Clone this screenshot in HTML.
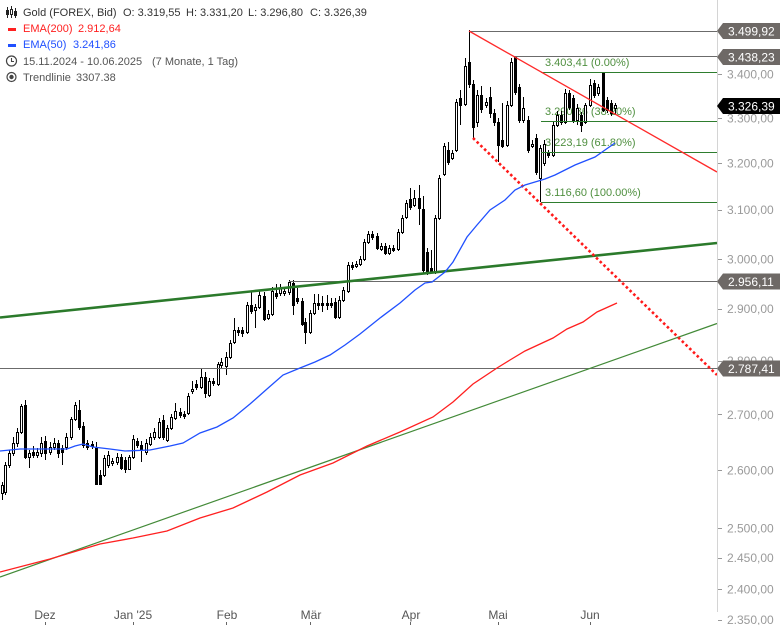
<!DOCTYPE html>
<html><head><meta charset="utf-8"><style>
html,body{margin:0;padding:0;background:#fff;}
svg{display:block;font-family:"Liberation Sans",Arial,sans-serif;}
.h{fill:#fff;stroke:#000;stroke-width:1}
.f{fill:#000;stroke:#000;stroke-width:1}
</style></head><body>
<svg width="780" height="625" viewBox="0 0 780 625" xmlns="http://www.w3.org/2000/svg">
<rect width="780" height="625" fill="#fff"/>

<!-- fib labels (under candles) -->
<g font-size="11" fill="#4f8f3f">
<text x="545" y="66">3.403,41 (0.00%)</text>
<text x="545" y="115">3.290,86 (38.20%)</text>
<text x="545" y="146">3.223,19 (61.80%)</text>
<text x="545" y="196">3.116,60 (100.00%)</text>
</g>

<!-- wicks -->
<path stroke="#000" stroke-width="1" fill="none" d="
M2.5 482V500M5.5 462V495M9.5 450V468M13.5 437V456M17.5 428V447M21.5 404V434M25.5 400V459M29.5 450V468M33.5 446V458M37.5 448V458M41.5 437V457M45.5 436V460M50.5 442V455M54.5 438V450M58.5 440V458M62.5 445V465M66.5 433V450M71.5 417V440M75.5 402V421M79.5 400V430M83.5 422V448M87.5 440V450M92.5 441V449M96.5 442V485M100.5 470V485M104.5 455V477M108.5 451V468M112.5 458V466M117.5 453V465M121.5 454V470M125.5 457V473M129.5 455V470M133.5 435V459M137.5 438V448M141.5 441V462M146.5 439V455M150.5 433V446M154.5 428V440M159.5 418V439M163.5 415V440M167.5 425V442M171.5 414V430M175.5 403V420M180.5 408V418M184.5 411V419M188.5 393V415M192.5 381V394M196.5 380V390M201.5 368V389M205.5 372V398M209.5 378V397M213.5 378V386M218.5 362V386M221.5 358V368M226.5 352V375M230.5 340V359M234.5 318V344M238.5 327V336M242.5 327V337M247.5 302V334M251.5 292V314M255.5 304V328M259.5 290V309M264.5 292V321M268.5 310V320M272.5 287V316M276.5 284V299M280.5 284V296M284.5 287V296M289.5 280V295M293.5 280V315M297.5 288V304M302.5 298V326M305.5 318V344M310.5 310V334M314.5 294V315M318.5 294V310M322.5 296V312M327.5 295V310M331.5 298V308M335.5 298V319M339.5 296V319M343.5 287V302M348.5 262V293M352.5 262V270M356.5 261V268M360.5 256V266M364.5 239V261M368.5 231V244M372.5 231V240M377.5 233V250M381.5 243V251M385.5 243V255M389.5 245V255M393.5 245V252M398.5 229V251M402.5 215V234M406.5 200V219M410.5 188V210M414.5 190V207M419.5 185V225M423.5 196V273M427.5 248V275M431.5 250V273M435.5 215V274M439.5 175V220M444.5 143V176M448.5 142V165M452.5 150V160M456.5 99V152M460.5 90V125M465.5 58V106M469.5 30V88M473.5 80V138M477.5 90V127M481.5 86V113M486.5 98V108M490.5 87V118M494.5 109V126M498.5 118V162M502.5 103V148M507.5 101V147M511.5 58V107M515.5 56V95M519.5 84V123M523.5 97V123M528.5 116V153M532.5 140V148M536.5 134V175M540.5 145V202M544.5 140V166M548.5 150V158M553.5 122V157M557.5 111V127M561.5 111V125M565.5 89V124M569.5 90V110M573.5 95V123M577.5 104V125M581.5 112V132M585.5 103V124M590.5 79V107M594.5 80V98M598.5 84V96M603.5 72V112M607.5 97V113M611.5 100V116M615.5 103V115"/>

<!-- bodies -->
<g>
<rect class="h" x="1.5" y="485.5" width="2" height="8"/>
<rect class="h" x="4.5" y="465.5" width="2" height="27"/>
<rect class="h" x="8.5" y="453.5" width="2" height="12"/>
<rect class="h" x="12.5" y="443.5" width="2" height="10"/>
<rect class="h" x="16.5" y="432.5" width="2" height="11"/>
<rect class="h" x="20.5" y="406.5" width="2" height="26"/>
<rect class="f" x="24.5" y="405.5" width="2" height="52"/>
<rect class="h" x="28.5" y="453.5" width="2" height="4"/>
<rect class="f" x="32.5" y="452.5" width="2" height="3"/>
<rect class="h" x="36.5" y="452.5" width="2" height="3"/>
<rect class="h" x="40.5" y="443.5" width="2" height="10"/>
<rect class="f" x="44.5" y="441.5" width="2" height="12"/>
<rect class="h" x="49.5" y="447.5" width="2" height="5"/>
<rect class="h" x="53.5" y="443.5" width="2" height="4"/>
<rect class="f" x="57.5" y="443.5" width="2" height="10"/>
<rect class="f" x="61.5" y="448.5" width="2" height="4"/>
<rect class="h" x="65.5" y="437.5" width="2" height="10"/>
<rect class="h" x="70.5" y="419.5" width="2" height="18"/>
<rect class="h" x="74.5" y="405.5" width="2" height="14"/>
<rect class="f" x="78.5" y="410.5" width="2" height="17"/>
<rect class="f" x="82.5" y="426.5" width="2" height="19"/>
<rect class="f" x="86.5" y="443.5" width="2" height="4"/>
<rect class="f" x="91.5" y="444.5" width="2" height="2"/>
<rect class="f" x="95.5" y="448.5" width="2" height="36"/>
<rect class="f" x="99.5" y="475.5" width="2" height="9"/>
<rect class="h" x="103.5" y="458.5" width="2" height="17"/>
<rect class="h" x="107.5" y="455.5" width="2" height="10"/>
<rect class="h" x="111.5" y="461.5" width="2" height="2"/>
<rect class="h" x="116.5" y="457.5" width="2" height="5"/>
<rect class="f" x="120.5" y="457.5" width="2" height="11"/>
<rect class="f" x="124.5" y="460.5" width="2" height="9"/>
<rect class="h" x="128.5" y="457.5" width="2" height="12"/>
<rect class="h" x="132.5" y="439.5" width="2" height="18"/>
<rect class="f" x="136.5" y="441.5" width="2" height="4"/>
<rect class="f" x="140.5" y="445.5" width="2" height="4"/>
<rect class="h" x="145.5" y="443.5" width="2" height="9"/>
<rect class="h" x="149.5" y="437.5" width="2" height="7"/>
<rect class="h" x="153.5" y="432.5" width="2" height="5"/>
<rect class="h" x="158.5" y="422.5" width="2" height="15"/>
<rect class="f" x="162.5" y="420.5" width="2" height="17"/>
<rect class="h" x="166.5" y="428.5" width="2" height="12"/>
<rect class="h" x="170.5" y="417.5" width="2" height="11"/>
<rect class="h" x="174.5" y="411.5" width="2" height="7"/>
<rect class="f" x="179.5" y="412.5" width="2" height="3"/>
<rect class="f" x="183.5" y="414.5" width="2" height="2"/>
<rect class="h" x="187.5" y="396.5" width="2" height="17"/>
<rect class="h" x="191.5" y="389.5" width="2" height="2"/>
<rect class="f" x="195.5" y="384.5" width="2" height="3"/>
<rect class="h" x="200.5" y="377.5" width="2" height="10"/>
<rect class="f" x="204.5" y="377.5" width="2" height="16"/>
<rect class="h" x="208.5" y="381.5" width="2" height="14"/>
<rect class="f" x="212.5" y="381.5" width="2" height="2"/>
<rect class="h" x="217.5" y="364.5" width="2" height="20"/>
<rect class="h" x="220.5" y="362.5" width="2" height="3"/>
<rect class="h" x="225.5" y="357.5" width="2" height="9"/>
<rect class="h" x="229.5" y="343.5" width="2" height="14"/>
<rect class="h" x="233.5" y="330.5" width="2" height="12"/>
<rect class="f" x="237.5" y="330.5" width="2" height="2"/>
<rect class="f" x="241.5" y="330.5" width="2" height="3"/>
<rect class="h" x="246.5" y="305.5" width="2" height="27"/>
<rect class="f" x="250.5" y="305.5" width="2" height="6"/>
<rect class="h" x="254.5" y="307.5" width="2" height="3"/>
<rect class="h" x="258.5" y="295.5" width="2" height="12"/>
<rect class="f" x="263.5" y="296.5" width="2" height="23"/>
<rect class="h" x="267.5" y="314.5" width="2" height="4"/>
<rect class="h" x="271.5" y="291.5" width="2" height="23"/>
<rect class="f" x="275.5" y="293.5" width="2" height="3"/>
<rect class="h" x="279.5" y="288.5" width="2" height="5"/>
<rect class="h" x="283.5" y="291.5" width="2" height="2"/>
<rect class="h" x="288.5" y="282.5" width="2" height="10"/>
<rect class="f" x="292.5" y="283.5" width="2" height="22"/>
<rect class="f" x="296.5" y="298.5" width="2" height="3"/>
<rect class="f" x="301.5" y="301.5" width="2" height="23"/>
<rect class="f" x="304.5" y="322.5" width="2" height="10"/>
<rect class="h" x="309.5" y="313.5" width="2" height="19"/>
<rect class="h" x="313.5" y="303.5" width="2" height="10"/>
<rect class="f" x="317.5" y="303.5" width="2" height="2"/>
<rect class="f" x="321.5" y="303.5" width="2" height="2"/>
<rect class="f" x="326.5" y="303.5" width="2" height="2"/>
<rect class="f" x="330.5" y="303.5" width="2" height="2"/>
<rect class="f" x="334.5" y="302.5" width="2" height="15"/>
<rect class="h" x="338.5" y="300.5" width="2" height="17"/>
<rect class="h" x="342.5" y="290.5" width="2" height="10"/>
<rect class="h" x="347.5" y="265.5" width="2" height="26"/>
<rect class="f" x="351.5" y="265.5" width="2" height="2"/>
<rect class="h" x="355.5" y="264.5" width="2" height="2"/>
<rect class="h" x="359.5" y="259.5" width="2" height="5"/>
<rect class="h" x="363.5" y="242.5" width="2" height="17"/>
<rect class="h" x="367.5" y="234.5" width="2" height="8"/>
<rect class="f" x="371.5" y="234.5" width="2" height="3"/>
<rect class="f" x="376.5" y="236.5" width="2" height="12"/>
<rect class="h" x="380.5" y="246.5" width="2" height="3"/>
<rect class="f" x="384.5" y="246.5" width="2" height="7"/>
<rect class="h" x="388.5" y="248.5" width="2" height="5"/>
<rect class="f" x="392.5" y="248.5" width="2" height="2"/>
<rect class="h" x="397.5" y="232.5" width="2" height="17"/>
<rect class="h" x="401.5" y="218.5" width="2" height="14"/>
<rect class="h" x="405.5" y="203.5" width="2" height="14"/>
<rect class="f" x="409.5" y="199.5" width="2" height="8"/>
<rect class="h" x="413.5" y="198.5" width="2" height="7"/>
<rect class="f" x="418.5" y="198.5" width="2" height="10"/>
<rect class="f" x="422.5" y="209.5" width="2" height="61"/>
<rect class="f" x="426.5" y="252.5" width="2" height="20"/>
<rect class="f" x="430.5" y="268.5" width="2" height="3"/>
<rect class="h" x="434.5" y="218.5" width="2" height="54"/>
<rect class="h" x="438.5" y="178.5" width="2" height="40"/>
<rect class="h" x="443.5" y="146.5" width="2" height="28"/>
<rect class="f" x="447.5" y="150.5" width="2" height="12"/>
<rect class="h" x="451.5" y="153.5" width="2" height="5"/>
<rect class="h" x="455.5" y="102.5" width="2" height="48"/>
<rect class="f" x="459.5" y="98.5" width="2" height="7"/>
<rect class="h" x="464.5" y="66.5" width="2" height="38"/>
<rect class="f" x="468.5" y="62.5" width="2" height="22"/>
<rect class="f" x="472.5" y="84.5" width="2" height="43"/>
<rect class="h" x="476.5" y="95.5" width="2" height="27"/>
<rect class="f" x="480.5" y="95.5" width="2" height="14"/>
<rect class="h" x="485.5" y="102.5" width="2" height="3"/>
<rect class="f" x="489.5" y="97.5" width="2" height="16"/>
<rect class="f" x="493.5" y="113.5" width="2" height="9"/>
<rect class="f" x="497.5" y="122.5" width="2" height="23"/>
<rect class="f" x="501.5" y="140.5" width="2" height="6"/>
<rect class="h" x="506.5" y="105.5" width="2" height="40"/>
<rect class="h" x="510.5" y="62.5" width="2" height="43"/>
<rect class="f" x="514.5" y="57.5" width="2" height="35"/>
<rect class="f" x="518.5" y="87.5" width="2" height="33"/>
<rect class="h" x="522.5" y="108.5" width="2" height="12"/>
<rect class="f" x="527.5" y="120.5" width="2" height="30"/>
<rect class="h" x="531.5" y="144.5" width="2" height="2"/>
<rect class="f" x="535.5" y="138.5" width="2" height="34"/>
<rect class="h" x="539.5" y="148.5" width="2" height="30"/>
<rect class="h" x="543.5" y="144.5" width="2" height="19"/>
<rect class="f" x="547.5" y="153.5" width="2" height="2"/>
<rect class="h" x="552.5" y="125.5" width="2" height="30"/>
<rect class="h" x="556.5" y="115.5" width="2" height="10"/>
<rect class="f" x="560.5" y="115.5" width="2" height="7"/>
<rect class="h" x="564.5" y="93.5" width="2" height="29"/>
<rect class="f" x="568.5" y="93.5" width="2" height="14"/>
<rect class="f" x="572.5" y="98.5" width="2" height="22"/>
<rect class="h" x="576.5" y="108.5" width="2" height="12"/>
<rect class="f" x="580.5" y="115.5" width="2" height="10"/>
<rect class="h" x="584.5" y="105.5" width="2" height="17"/>
<rect class="h" x="589.5" y="85.5" width="2" height="20"/>
<rect class="f" x="593.5" y="83.5" width="2" height="12"/>
<rect class="h" x="597.5" y="87.5" width="2" height="6"/>
<rect class="f" x="602.5" y="73.5" width="2" height="37"/>
<rect class="f" x="606.5" y="100.5" width="2" height="10"/>
<rect class="f" x="610.5" y="103.5" width="2" height="10"/>
<rect class="h" x="614.5" y="105.5" width="2" height="3"/>
</g>

<!-- horizontal lines -->
<g stroke="#6b6b6b" stroke-width="1">
<line x1="469" y1="31.5" x2="717" y2="31.5"/>
<line x1="514" y1="56.5" x2="717" y2="56.5"/>
<line x1="289" y1="281.5" x2="717" y2="281.5"/>
<line x1="0" y1="368.5" x2="717" y2="368.5"/>
</g>
<g stroke="#2e7d2e" stroke-width="1">
<line x1="541" y1="72.5" x2="717" y2="72.5"/>
<line x1="541" y1="121.5" x2="717" y2="121.5"/>
<line x1="541" y1="152.5" x2="717" y2="152.5"/>
<line x1="541" y1="202.5" x2="717" y2="202.5"/>
</g>

<!-- trend lines -->
<line x1="0" y1="317.5" x2="717" y2="243" stroke="#2b7a2b" stroke-width="2.6"/>
<line x1="0" y1="577" x2="717" y2="323.5" stroke="#438a38" stroke-width="1.2"/>
<line x1="469" y1="31" x2="717" y2="172" stroke="#ff2a2a" stroke-width="1.3"/>
<line x1="473" y1="138" x2="717" y2="375" stroke="#ff1a1a" stroke-width="2.6" stroke-dasharray="2.6 2.6"/>

<!-- EMAs -->
<polyline fill="none" stroke="#ff2020" stroke-width="1.3" points="0,572 50,559 100,544 133,538 167,531 200,518 233,508 267,492 300,475 333,463 367,446 400,432 433,417 453,402 473,384 497,368 510,360 525,351 553,338 567,329 583,322 597,312 617,303"/>
<polyline fill="none" stroke="#2050ff" stroke-width="1.3" points="0,451 20,449 45,449 67,449 75,446 83,444 93,447 110,449 125,451 150,450 170,446 183,443 200,433 217,427 233,418 250,404 267,389 283,375 300,368 315,362 330,355 345,345 360,334 380,318 400,303 415,290 425,283 432,282 445,272 453,262 467,237 477,225 490,210 505,200 515,190 525,185 535,182 545,179 555,175 565,170 575,165 585,161 595,157 605,150 615,143"/>

<!-- y axis -->
<line x1="717.5" y1="0" x2="717.5" y2="612" stroke="#d4d4d4" stroke-width="1"/>
<g stroke="#999" stroke-width="1">
<line x1="718" y1="74.5" x2="722" y2="74.5"/>
<line x1="718" y1="118.5" x2="722" y2="118.5"/>
<line x1="718" y1="163.5" x2="722" y2="163.5"/>
<line x1="718" y1="210.5" x2="722" y2="210.5"/>
<line x1="718" y1="259.5" x2="722" y2="259.5"/>
<line x1="718" y1="309.5" x2="722" y2="309.5"/>
<line x1="718" y1="361.5" x2="722" y2="361.5"/>
<line x1="718" y1="414.5" x2="722" y2="414.5"/>
<line x1="718" y1="470.5" x2="722" y2="470.5"/>
<line x1="718" y1="528.5" x2="722" y2="528.5"/>
<line x1="718" y1="558.5" x2="722" y2="558.5"/>
<line x1="718" y1="589.5" x2="722" y2="589.5"/>
<line x1="718" y1="620.5" x2="722" y2="620.5"/>
</g>
<g font-size="12" fill="#9a9a9a">
<text x="727" y="78.5">3.400,00</text>
<text x="727" y="122.5">3.300,00</text>
<text x="727" y="167.5">3.200,00</text>
<text x="727" y="214">3.100,00</text>
<text x="727" y="263.5">3.000,00</text>
<text x="727" y="313">2.900,00</text>
<text x="727" y="365">2.800,00</text>
<text x="727" y="419">2.700,00</text>
<text x="727" y="474.5">2.600,00</text>
<text x="727" y="532.5">2.500,00</text>
<text x="727" y="562">2.450,00</text>
<text x="727" y="593.5">2.400,00</text>
<text x="727" y="624">2.350,00</text>
</g>

<!-- price tags -->
<g font-size="12" fill="#fff">
<polygon points="717,31 723,23 780,23 780,39 723,39" fill="#6e6966"/>
<text x="728" y="35.5">3.499,92</text>
<polygon points="717,57 723,49 780,49 780,65 723,65" fill="#6e6966"/>
<text x="728" y="61.5">3.438,23</text>
<polygon points="717,106 723,98 780,98 780,114 723,114" fill="#000"/>
<text x="728" y="110.5">3.326,39</text>
<polygon points="717,281.5 723,273.5 780,273.5 780,289.5 723,289.5" fill="#6e6966"/>
<text x="728" y="286">2.956,11</text>
<polygon points="717,368.5 723,360.5 780,360.5 780,376.5 723,376.5" fill="#6e6966"/>
<text x="728" y="373">2.787,41</text>
</g>

<!-- x axis -->
<g font-size="12" fill="#555" text-anchor="middle">
<text x="45" y="619">Dez</text>
<text x="133" y="619">Jan '25</text>
<text x="227" y="619">Feb</text>
<text x="311" y="619">Mär</text>
<text x="411" y="619">Apr</text>
<text x="498" y="619">Mai</text>
<text x="590" y="619">Jun</text>
</g>
<g stroke="#666" stroke-width="1">
<line x1="45.5" y1="622" x2="45.5" y2="625"/>
<line x1="133.5" y1="622" x2="133.5" y2="625"/>
<line x1="226.5" y1="622" x2="226.5" y2="625"/>
<line x1="310.5" y1="622" x2="310.5" y2="625"/>
<line x1="410.5" y1="622" x2="410.5" y2="625"/>
<line x1="498.5" y1="622" x2="498.5" y2="625"/>
<line x1="590.5" y1="622" x2="590.5" y2="625"/>
</g>

<!-- legend -->
<g stroke="#222" stroke-width="1" fill="none">
<line x1="7.5" y1="7" x2="7.5" y2="18"/><rect x="6.5" y="10.5" width="2" height="4" fill="#222"/>
<line x1="11.5" y1="6" x2="11.5" y2="18"/><rect x="10.5" y="9.5" width="2" height="5" fill="#fff"/>
<line x1="15.5" y1="8" x2="15.5" y2="18"/><rect x="14.5" y="11.5" width="2" height="4" fill="#222"/>
</g>
<rect x="8" y="28" width="8" height="3" fill="#ff2020"/>
<rect x="8" y="44" width="8" height="3" fill="#2050ff"/>
<circle cx="11.5" cy="61" r="5" fill="none" stroke="#444" stroke-width="1.2"/>
<path d="M11.5 58V61.5H14" fill="none" stroke="#444" stroke-width="1.1"/>
<circle cx="11.5" cy="77" r="4.5" fill="none" stroke="#444" stroke-width="1.2"/>
<circle cx="11.5" cy="77" r="2.2" fill="#444"/>
<g font-size="11" fill="#333">
<text x="23" y="16">Gold (FOREX, Bid)</text>
<text x="123" y="16">O: 3.319,55</text>
<text x="186" y="16">H: 3.331,20</text>
<text x="248" y="16">L: 3.296,80</text>
<text x="310" y="16">C: 3.326,39</text>
<text x="23" y="32" fill="#ff2020">EMA(200)</text>
<text x="78" y="32" fill="#ff2020">2.912,64</text>
<text x="23" y="48" fill="#2050ff">EMA(50)</text>
<text x="73" y="48" fill="#2050ff">3.241,86</text>
<text x="23" y="65" fill="#555">15.11.2024 - 10.06.2025</text>
<text x="152" y="65" fill="#555">(7 Monate, 1 Tag)</text>
<text x="23" y="81" fill="#555">Trendlinie</text>
<text x="76" y="81" fill="#555">3307.38</text>
</g>
</svg>
</body></html>
